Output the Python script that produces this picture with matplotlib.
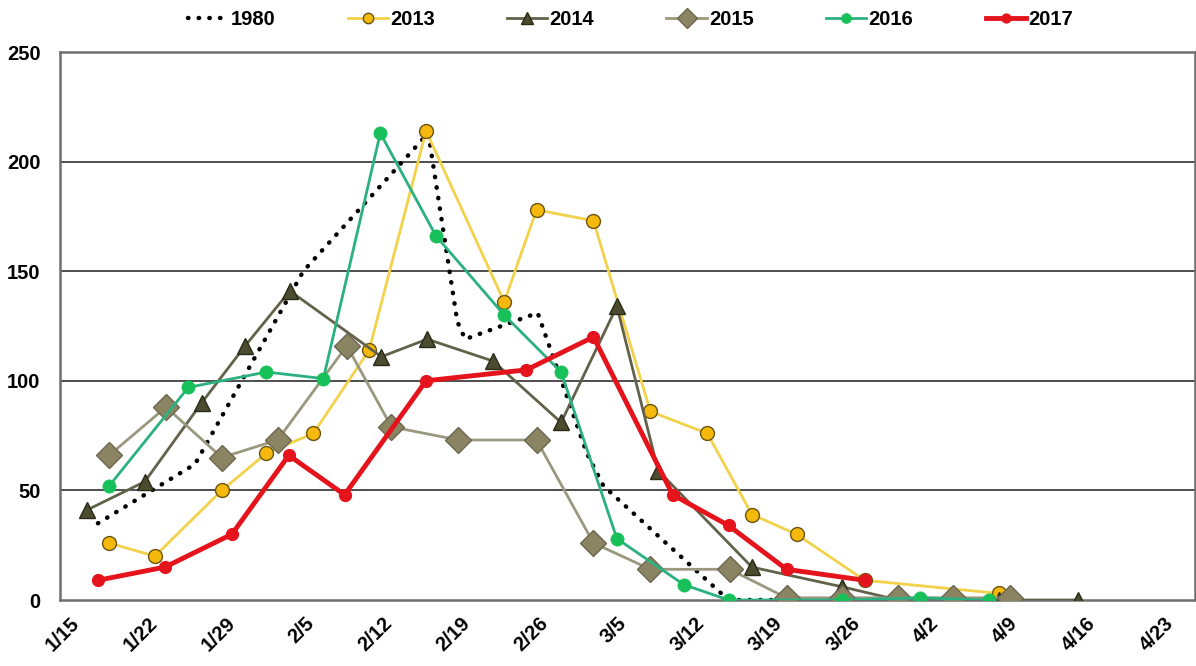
import matplotlib
matplotlib.use("Agg")
import matplotlib.pyplot as plt
from matplotlib import font_manager as fm
from matplotlib.transforms import ScaledTranslation

# ---- data (x = days after Jan 15) ----
tick_days = [0, 7, 14, 21, 28, 35, 42, 49, 56, 63, 70, 77, 84, 91, 98]
tick_labels = ['1/15', '1/22', '1/29', '2/5', '2/12', '2/19', '2/26', '3/5',
               '3/12', '3/19', '3/26', '4/2', '4/9', '4/16', '4/23']

days_1980 = [3.4, 12.1, 21.8, 33.0, 35.6, 36.3, 42.8, 47.2, 48.7, 59.9, 68.6]
vals_1980 = [35, 62, 150, 213, 127, 119, 131, 67, 52, 0, 0]

days_2013 = [4.4, 8.5, 14.5, 18.5, 22.7, 27.7, 32.8, 39.8, 42.7, 47.8, 52.9, 58.0, 62.0, 66.0, 72.1, 84.1]
vals_2013 = [26, 20, 50, 67, 76, 114, 214, 136, 178, 173, 86, 76, 39, 30, 9, 3]

days_2014 = [2.4, 7.6, 12.7, 16.6, 20.6, 28.8, 32.9, 38.8, 44.9, 49.9, 53.6, 62.0, 70.1, 75.1, 80.0, 84.1, 91.2]
vals_2014 = [41, 54, 90, 116, 141, 111, 119, 109, 81, 134, 59, 15, 6, 0, 0, 0, 0]

days_2015 = [4.4, 9.5, 14.5, 19.5, 25.7, 29.7, 35.7, 42.7, 47.8, 52.9, 60.0, 65.1, 70.1, 75.1, 80.0, 85.1]
vals_2015 = [66, 88, 65, 73, 116, 79, 73, 73, 26, 14, 14, 1, 1, 1, 1, 1]

days_2016 = [4.4, 11.5, 18.5, 23.6, 28.7, 33.7, 39.8, 44.9, 49.9, 55.9, 59.9, 70.1, 77.1, 83.2]
vals_2016 = [52, 97, 104, 101, 213, 166, 130, 104, 28, 7, 0, 0, 1, 0]

days_2017 = [3.4, 9.4, 15.4, 20.5, 25.5, 32.8, 41.8, 47.8, 54.9, 59.9, 65.1, 72.1]
vals_2017 = [9, 15, 30, 66, 48, 100, 105, 120, 48, 34, 14, 9]

# ---- fonts ----
avail = {f.name for f in fm.fontManager.ttflist}
fam = [f for f in ['Liberation Sans Narrow', 'Liberation Sans', 'DejaVu Sans'] if f in avail]
plt.rcParams['font.family'] = fam
plt.rcParams['font.weight'] = 'bold'

W, H = 1196, 666
fig = plt.figure(figsize=(W / 100, H / 100), dpi=100)
ax = fig.add_axes([60 / W, (H - 600) / H, 1135 / W, 548 / H])

ax.plot(days_1980, vals_1980, color='black', lw=3.2, linestyle=(0, (0.1, 2.3)),
        dash_capstyle='round', label='1980', zorder=3)
ax.plot(days_2013, vals_2013, color='#f2d24a', lw=2, marker='o', ms=10,
        mfc='#f4b90c', mec='#6b5412', mew=1.0, label='2013', zorder=4)
ax.plot(days_2014, vals_2014, color='#62624a', lw=2, marker='^', ms=11,
        mfc='#4b4b30', mec='#2a2a18', mew=1.0, label='2014', zorder=5)
ax.plot(days_2015, vals_2015, color='#9a987e', lw=2, marker='D', ms=13,
        mfc='#8b8463', mec='#6c6650', mew=1.0, label='2015', zorder=6)
ax.plot(days_2016, vals_2016, color='#2bb07f', lw=2, marker='o', ms=9.5,
        mfc='#18c05a', mec='#18c05a', mew=0.5, label='2016', zorder=7)
ax.plot(days_2017, vals_2017, color='#e5131b', lw=3.5, marker='o', ms=8.5,
        mfc='#e5131b', mec='#e5131b', label='2017', zorder=8)

ax.set_xlim(0, 101.7)
ax.set_ylim(0, 250)
ax.set_yticks([0, 50, 100, 150, 200, 250])
ax.set_xticks(tick_days)
ax.set_xticklabels(tick_labels, rotation=45, ha='right', rotation_mode='anchor')
ax.tick_params(axis='both', length=0, labelsize=14.5)
ax.tick_params(axis='x', pad=10)
ax.tick_params(axis='y', pad=14)
off = ScaledTranslation(10 / 100, 0, fig.dpi_scale_trans)
for lab in ax.get_xticklabels():
    lab.set_transform(lab.get_transform() + off)
for y in [50, 100, 150, 200]:
    ax.axhline(y, color='#404040', lw=1.3, zorder=1)
for s in ax.spines.values():
    s.set_color('#6f6f6f')
    s.set_linewidth(1.8)

fig.legend(loc='upper center', bbox_to_anchor=(0.527, 1.012), ncol=6, frameon=False,
           fontsize=14.5, handlelength=2.0, columnspacing=3.6, handletextpad=0.1,
           markerscale=0.75)

fig.savefig('out.png', dpi=100)
